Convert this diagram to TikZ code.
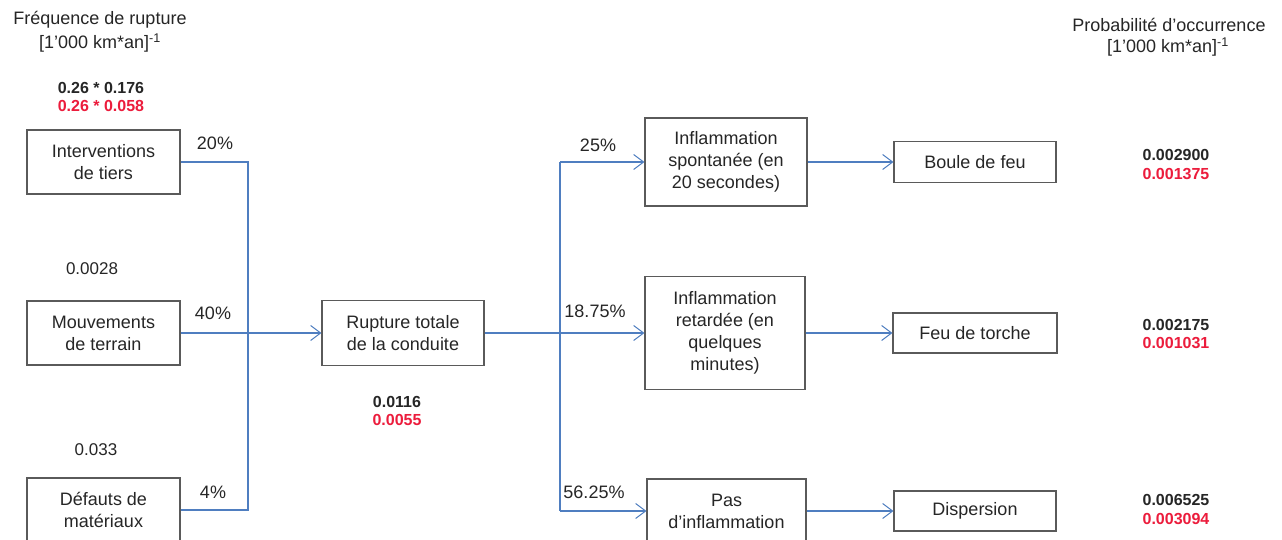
\documentclass[tikz,border=0pt]{standalone}
\usepackage{fontspec}
\setmainfont{Liberation Sans}
\usetikzlibrary{arrows.meta}
\definecolor{conn}{HTML}{4F7EC0}
\definecolor{boxline}{HTML}{5A5A5A}
\definecolor{txt}{HTML}{262626}
\definecolor{redval}{HTML}{EC1C3C}
\tikzset{
  stepbox/.style={draw=boxline, line width=1.1pt, fill=white, align=center, inner sep=2pt,
    font=\fontsize{18}{22}\selectfont, text=txt},
  link/.style={draw=conn, line width=1.1pt},
  arr/.style={link, -{Straight Barb[length=10pt,width=15pt,line width=1pt]}},
  lbl/.style={font=\fontsize{18}{22}\selectfont, text=txt, inner sep=0pt},
  valb/.style={font=\fontsize{16}{18}\selectfont\bfseries, text=txt, inner sep=0pt},
  valr/.style={font=\fontsize{16}{18}\selectfont\bfseries, text=redval, inner sep=0pt},
}
\begin{document}
\begin{tikzpicture}[x=1pt,y=-1pt]
\useasboundingbox (0,0) rectangle (1282,539);
\clip (0,0) rectangle (1282,539);
\fill[white] (0,0) rectangle (1282,539);

% boxes
\node[stepbox, minimum width=153pt, minimum height=64pt] (int) at (103.5,162) {Interventions\\de tiers};
\node[stepbox, minimum width=153pt, minimum height=64pt] (mou) at (103.5,333) {Mouvements\\de terrain};
\node[stepbox, minimum width=153pt, minimum height=64pt] (def) at (103.5,510) {Défauts de\\matériaux};
\node[stepbox, minimum width=162pt, minimum height=65pt] (rup) at (403,333) {Rupture totale\\de la conduite};
\node[stepbox, minimum width=162pt, minimum height=88pt] (spo) at (726,162) {Inflammation\\spontanée (en\\20 secondes)};
\node[stepbox, minimum width=160pt, minimum height=113pt] (ret) at (725,333) {Inflammation\\retardée (en\\quelques\\minutes)};
\node[stepbox, minimum width=159pt, minimum height=64pt] (pas) at (726.5,511) {Pas\\d'inflammation};
\node[stepbox, minimum width=162pt, minimum height=41pt] (bou) at (975,162) {Boule de feu};
\node[stepbox, minimum width=164pt, minimum height=40pt] (tor) at (975,333) {Feu de torche};
\node[stepbox, minimum width=162pt, minimum height=40pt] (dis) at (975,511) {Dispersion};

% junctions
\coordinate (jl) at (248,0);
\coordinate (jr) at (560,0);

% left connectors
\draw[link] (int.east) -- (int.east -| jl) -- (def.east -| jl) -- (def.east);
\draw[arr] (mou.east) -- (rup.west);

% right connectors
\draw[arr] (rup.east) -- (ret.west);
\draw[link] (spo.west -| jr) -- (pas.west -| jr);
\draw[arr] (spo.west -| jr) -- (spo.west);
\draw[arr] (pas.west -| jr) -- (pas.west);

% outcomes
\draw[arr] (spo.east) -- (bou.west);
\draw[arr] (ret.east) -- (tor.west);
\draw[arr] (pas.east) -- (dis.west);

% headers
\node[lbl] (h1) at (100,20) {Fréquence de rupture};
\node[lbl] (h1u) at (100,43) {[1'000 km*an]\textsuperscript{-1}};
\node[lbl] (h2) at (1169,25) {Probabilité d'occurrence};
\node[lbl] (h2u) at (1168,47) {[1'000 km*an]\textsuperscript{-1}};

% values left
\node[valb] (v1a) at (101,88) {0.26 * 0.176};
\node[valr] (v1b) at (101,106) {0.26 * 0.058};
\node[lbl, font=\fontsize{17}{20}\selectfont] (v2) at (92,269) {0.0028};
\node[lbl, font=\fontsize{17}{20}\selectfont] (v3) at (96,450) {0.033};

% percentages
\node[lbl] (p1) at (215,143) {20\%};
\node[lbl] (p2) at (213,313) {40\%};
\node[lbl] (p3) at (213,492) {4\%};
\node[lbl] (p4) at (598,145) {25\%};
\node[lbl] (p5) at (595,311) {18.75\%};
\node[lbl] (p6) at (594,492) {56.25\%};

% rupture values
\node[valb] (r1) at (397,402) {0.0116};
\node[valr] (r2) at (397,420) {0.0055};

% right values
\node[valb] (o1a) at (1176,155) {0.002900};
\node[valr] (o1b) at (1176,174) {0.001375};
\node[valb] (o2a) at (1176,325) {0.002175};
\node[valr] (o2b) at (1176,343) {0.001031};
\node[valb] (o3a) at (1176,500) {0.006525};
\node[valr] (o3b) at (1176,519) {0.003094};
\end{tikzpicture}
\end{document}
